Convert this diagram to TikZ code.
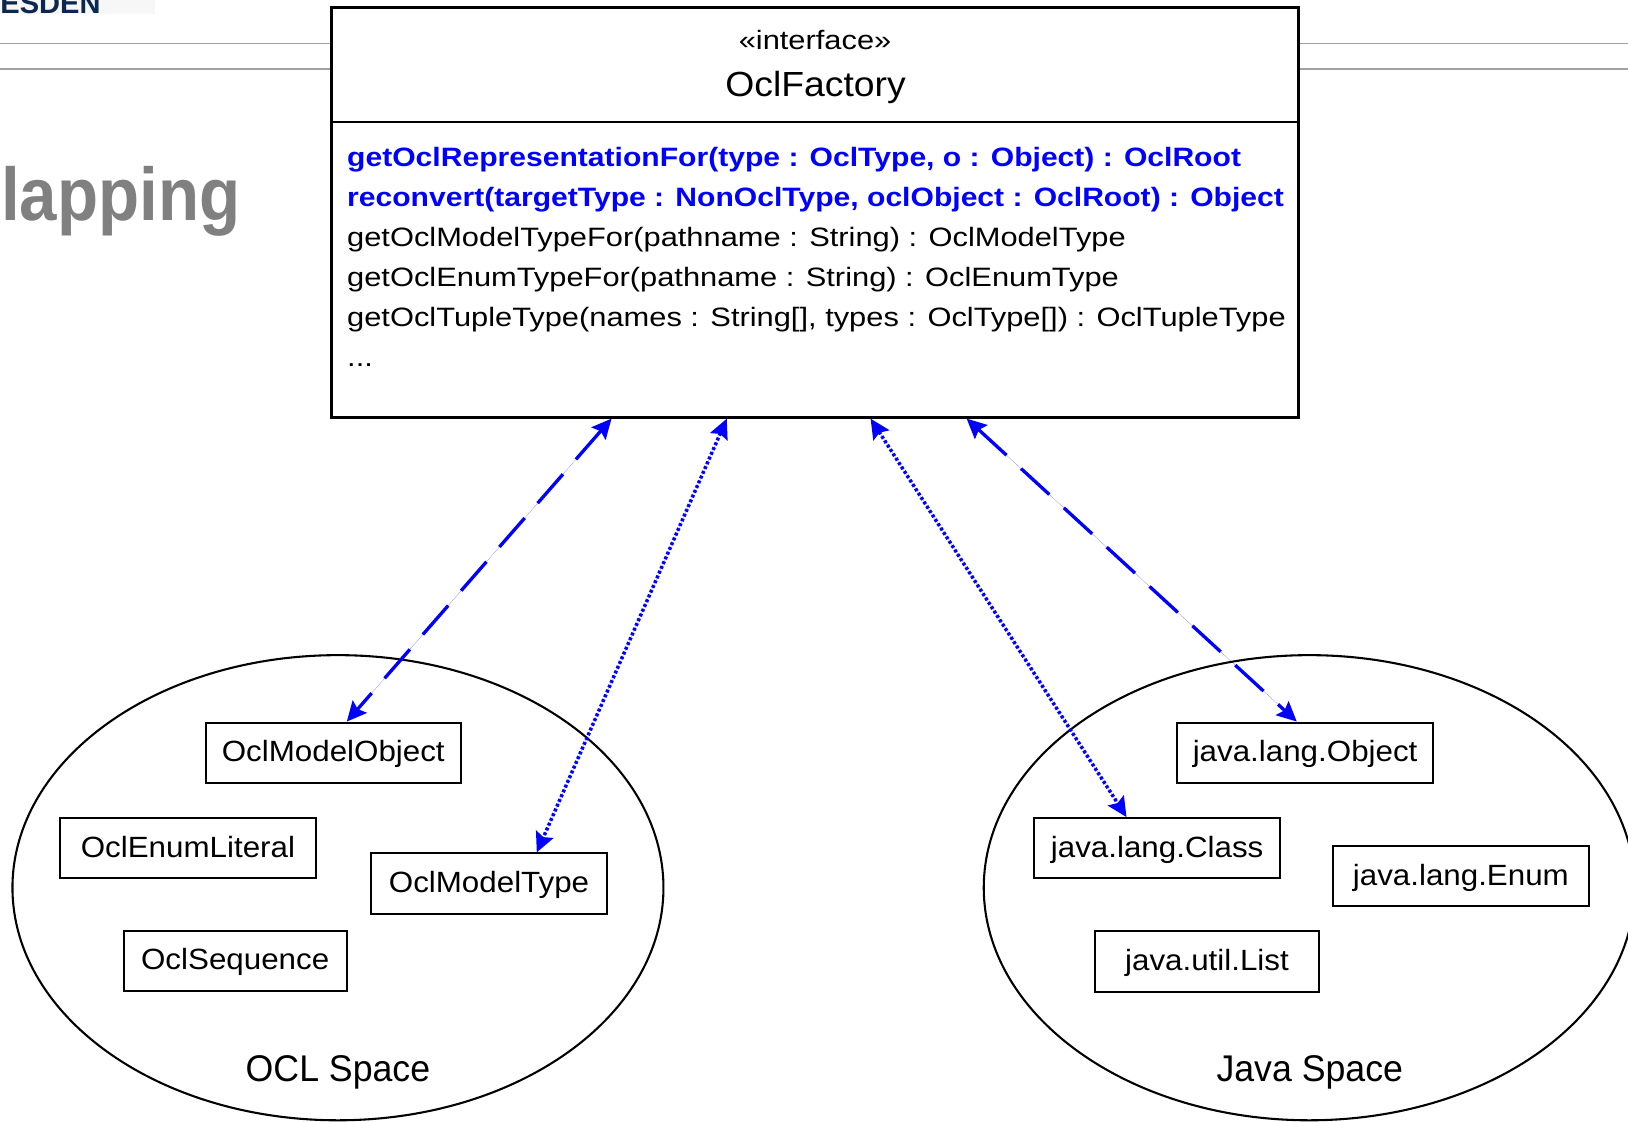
\documentclass[tikz,border=0pt]{standalone}
\usepackage{fontspec}
\usetikzlibrary{arrows.meta,shapes.geometric}
\newfontfamily\methfont[FakeStretch=1.16]{Liberation Sans}
\newfontfamily\methbfont[FakeStretch=1.132]{Liberation Sans}
\newfontfamily\labfont[FakeStretch=1.07]{Liberation Sans}
\newfontfamily\spacefont[FakeStretch=0.96]{Liberation Sans}
\newfontfamily\titlefont[FakeStretch=0.9]{Liberation Sans}
\newfontfamily\logofont{Liberation Sans}
\definecolor{umlblue}{RGB}{0,0,255}
\definecolor{hdrgray}{RGB}{160,160,160}
\definecolor{titlegray}{RGB}{128,128,128}
\definecolor{logonavy}{RGB}{12,40,80}
\tikzset{
  cls/.style={draw, line width=1pt, inner sep=0pt, fill=white,
    font=\labfont\fontsize{14.1pt}{16pt}\selectfont,
    text height=10.1pt, text depth=1.5pt, minimum height=29pt},
  spacebubble/.style={draw, ellipse, line width=1pt, inner sep=0pt,
    minimum width=313.5pt, minimum height=224pt},
  spacelabel/.style={anchor=base, inner sep=0pt,
    font=\spacefont\fontsize{17.9pt}{20pt}\selectfont},
  meth/.style={anchor=base west, inner sep=0pt,
    font=\methfont\fontsize{12.8pt}{15pt}\selectfont},
  opmeth/.style={meth, text=umlblue, font=\methbfont\bfseries\fontsize{12.8pt}{15pt}\selectfont},
  biarrow/.style={{Stealth[length=9.5pt,width=9pt,inset=1.5pt]}-{Stealth[length=9.5pt,width=9pt,inset=1.5pt]}},
  dashlink/.style={biarrow, draw=umlblue, fill=umlblue, line width=1.6pt, dash pattern=on 18.5pt off 9.5pt},
  dotlink/.style={biarrow, draw=umlblue, fill=umlblue, line width=1.7pt, dash pattern=on 1.4pt off 1.1pt},
  hdrline/.style={draw=hdrgray, line width=0.75pt}
}
\begin{document}
\begin{tikzpicture}[x=0.5pt, y=-0.5pt]
\useasboundingbox (0,0) rectangle (1568,1080);
\clip (0,0) rectangle (1568,1080);
\fill[white] (0,0) rectangle (1568,1080);

% slide header remnants
\fill[black!3] (0,0) rectangle (149,13.5);
\node[anchor=base west, inner sep=0pt, text=logonavy,
  font=\logofont\bfseries\fontsize{14pt}{16pt}\selectfont] (logo) at (0,12.8) {ESDEN};
\draw[hdrline] (0,41.7) -- (1568,41.7);
\draw[hdrline] (0,66.7) -- (1568,66.7);
\node[anchor=base east, inner sep=0pt, text=titlegray,
  font=\titlefont\bfseries\fontsize{36pt}{40pt}\selectfont] (title) at (232,212) {lapping};

% OclFactory interface
\node[draw, fill=white, line width=1.2pt, inner sep=0pt,
  minimum width=465.5pt, minimum height=197.5pt] (factory) at (785,204.5) {};
\coordinate (divy) at (0,117.5);
\draw[line width=1.2pt] (factory.west |- divy) -- (factory.east |- divy);
\node[anchor=base, inner sep=0pt, font=\methfont\fontsize{12.8pt}{15pt}\selectfont] (stereo) at (785,47.5) {«interface»};
\node[anchor=base, inner sep=0pt, font=\labfont\fontsize{16.8pt}{19pt}\selectfont] (fname) at (785.5,92.5) {OclFactory};

\node[opmeth] (m1) at (334,160.6) {getOclRepresentationFor(type : OclType, o : Object) : OclRoot};
\node[opmeth] (m2) at (334,199.1) {reconvert(targetType : NonOclType, oclObject : OclRoot) : Object};
\node[meth] (m3) at (334,237.6) {getOclModelTypeFor(pathname : String) : OclModelType};
\node[meth] (m4) at (334,276.1) {getOclEnumTypeFor(pathname : String) : OclEnumType};
\node[meth] (m5) at (334,314.6) {getOclTupleType(names : String[], types : OclType[]) : OclTupleType};
\node[meth] (m6) at (334,353.1) {...};

% spaces
\node[spacebubble] (oclsp) at (325.5,855) {};
\node[spacebubble] (javasp) at (1261,855) {};
\node[spacelabel] (ocllab) at (325.5,1041.8) {OCL Space};
\node[spacelabel] (javalab) at (1261.5,1041.8) {Java Space};

% classes
\node[cls, minimum width=123pt] (omo) at (321,725) {OclModelObject};
\node[cls, minimum width=123pt] (oel) at (181,817) {OclEnumLiteral};
\node[cls, minimum width=114pt] (omt) at (471,851) {OclModelType};
\node[cls, minimum width=107.5pt] (oseq) at (226.5,925.5) {OclSequence};
\node[cls, minimum width=123pt] (jlo) at (1257,725) {java.lang.Object};
\node[cls, minimum width=118.5pt] (jlc) at (1114.5,817) {java.lang.Class};
\node[cls, minimum width=123pt] (jle) at (1407,844) {java.lang.Enum};
\node[cls, minimum width=107.5pt] (jul) at (1162.5,926) {java.util.List};

% mappings
\draw[dashlink] ([xshift=-98pt]factory.south) -- ([xshift=6.5pt]omo.north);
\draw[dotlink] ([xshift=-42.5pt]factory.south) -- ([xshift=23pt]omt.north);
\draw[dotlink] ([xshift=26.75pt]factory.south) -- ([xshift=-14.75pt]jlc.north);
\draw[dashlink] ([xshift=73pt]factory.south) -- ([xshift=-4pt]jlo.north);
\end{tikzpicture}
\end{document}
